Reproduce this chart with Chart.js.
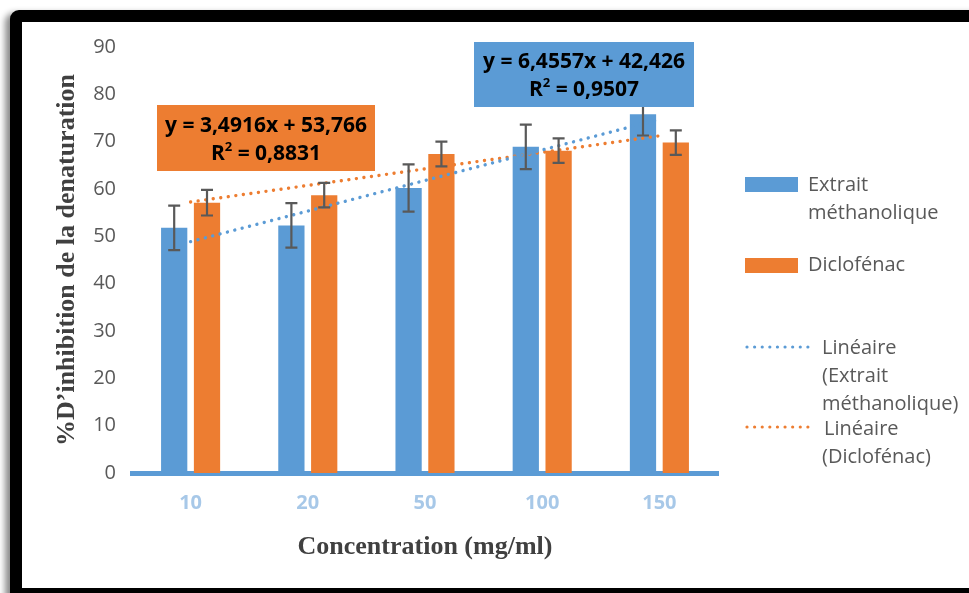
<!DOCTYPE html>
<html>
<head>
<meta charset="utf-8">
<script src="https://cdn.jsdelivr.net/npm/chart.js@4.4.1/dist/chart.umd.min.js"></script>
<style>
  html, body { margin: 0; padding: 0; background: #fff; width: 969px; height: 593px; overflow: hidden; }
  #frame {
    position: absolute; left: 10px; top: 10px; width: 1100px; height: 566px;
    border: 12px solid #000; border-radius: 9px 0 0 0;
    box-shadow: -5px 3px 6px rgba(0,0,0,0.45); background: #fff;
  }
  #wrap { position: absolute; left: 0; top: 0; width: 969px; height: 593px; }
</style>
</head>
<body>
<div id="frame"></div>
<div id="wrap"><canvas id="chart" width="969" height="593"></canvas></div>
<script>
// Concentrations tested (mg/ml)
const concentrations = ['10', '20', '50', '100', '150'];

// % inhibition of protein denaturation, mean values
const extraitValues = [51.8, 52.3, 60.2, 68.9, 75.8];
const diclofenacValues = [57.1, 58.7, 67.4, 68.1, 69.8];

// Standard deviations (error bars)
const extraitErrors = [4.7, 4.7, 5.0, 4.7, 4.5];
const diclofenacErrors = [2.7, 2.6, 2.6, 2.6, 2.6];

// Linear trendlines (x = category rank 1..5): [slope, intercept, R²]
const extraitFit = [6.4557, 42.426, 0.9507];
const diclofenacFit = [3.4916, 53.766, 0.8831];

// Y axis range
const yRange = [0, 90, 10];

const BLUE = '#5B9BD5';
const ORANGE = '#ED7D31';
const GREY = '#595959';

function fitLine(fit) {
  const n = concentrations.length;
  return [
    { x: concentrations[0], y: fit[0] * 1 + fit[1] },
    { x: concentrations[n - 1], y: fit[0] * n + fit[1] }
  ];
}
const fr = v => String(v).replace('.', ',');

// Error bars on top of each bar
const errorBars = {
  id: 'errorBars',
  afterDatasetsDraw(chart) {
    const ctx = chart.ctx, ys = chart.scales.y;
    const sets = [[0, extraitValues, extraitErrors], [1, diclofenacValues, diclofenacErrors]];
    ctx.save();
    ctx.strokeStyle = GREY;
    ctx.lineWidth = 2.2;
    sets.forEach(([idx, vals, errs]) => {
      chart.getDatasetMeta(idx).data.forEach((bar, i) => {
        const x = bar.x;
        const t = ys.getPixelForValue(vals[i] + errs[i]);
        const b = ys.getPixelForValue(vals[i] - errs[i]);
        ctx.beginPath();
        ctx.moveTo(x, t); ctx.lineTo(x, b);
        ctx.moveTo(x - 6, t); ctx.lineTo(x + 6, t);
        ctx.moveTo(x - 6, b); ctx.lineTo(x + 6, b);
        ctx.stroke();
      });
    });
    ctx.restore();
  }
};

// Trendline equation boxes and the side legend
const overlays = {
  id: 'overlays',
  afterDraw(chart) {
    const ctx = chart.ctx;
    ctx.save();

    function eqBox(fit, color, x0, y0, w, h, l1, l2) {
      ctx.fillStyle = color;
      ctx.fillRect(x0, y0, w, h);
      ctx.fillStyle = '#000';
      ctx.textBaseline = 'middle';
      ctx.textAlign = 'left';
      const big = 'bold 21px "Open Sans"', small = 'bold 13px "Open Sans"';
      const cx = x0 + w / 2;
      ctx.font = big;
      const eq = 'y = ' + fr(fit[0]) + 'x + ' + fr(fit[1]);
      ctx.textAlign = 'center';
      ctx.fillText(eq, cx, l1);
      ctx.textAlign = 'left';
      const rest = ' = ' + fr(fit[2]);
      const wR = ctx.measureText('R').width;
      const wRest = ctx.measureText(rest).width;
      ctx.font = small;
      const w2 = ctx.measureText('2').width;
      const total = wR + w2 + wRest;
      let x = cx - total / 2;
      ctx.font = big;
      ctx.fillText('R', x, l2); x += wR;
      ctx.font = small;
      ctx.fillText('2', x, l2 - 7); x += w2;
      ctx.font = big;
      ctx.fillText(rest, x, l2);
    }
    eqBox(diclofenacFit, ORANGE, 157, 105, 218, 66, 126, 154);
    eqBox(extraitFit, BLUE, 474, 42, 220, 65, 62, 90);

    // legend
    ctx.font = '20px "Open Sans"';
    ctx.fillStyle = GREY;
    ctx.textAlign = 'left';
    ctx.textBaseline = 'middle';
    const ds = chart.data.datasets;
    ctx.fillStyle = ds[0].backgroundColor;
    ctx.fillRect(745, 177, 53, 15);
    ctx.fillStyle = ds[1].backgroundColor;
    ctx.fillRect(745, 258, 53, 15);
    ctx.fillStyle = GREY;
    ctx.fillText('Extrait', 808, 185);
    ctx.fillText('méthanolique', 808, 213);
    ctx.fillText('Diclofénac', 808, 265);

    function dots(color, y) {
      ctx.save();
      ctx.strokeStyle = color;
      ctx.lineWidth = 3.2;
      ctx.lineCap = 'round';
      ctx.setLineDash([0.01, 7.6]);
      ctx.beginPath();
      ctx.moveTo(747, y); ctx.lineTo(811, y);
      ctx.stroke();
      ctx.restore();
    }
    dots(ds[2].borderColor, 347);
    dots(ds[3].borderColor, 427);
    ctx.fillText('Linéaire', 822, 348);
    ctx.fillText('(Extrait', 822, 376);
    ctx.fillText('méthanolique)', 822, 404);
    ctx.fillText('Linéaire', 824, 429);
    ctx.fillText('(Diclofénac)', 822, 457);

    ctx.restore();
  }
};

new Chart(document.getElementById('chart'), {
  type: 'bar',
  data: {
    labels: concentrations,
    datasets: [
      { label: 'Extrait méthanolique', data: extraitValues, backgroundColor: BLUE, order: 2,
        categoryPercentage: 0.56, barPercentage: 0.8 },
      { label: 'Diclofénac', data: diclofenacValues, backgroundColor: ORANGE, order: 2,
        categoryPercentage: 0.56, barPercentage: 0.8 },
      { type: 'line', label: 'Linéaire (Extrait méthanolique)', data: fitLine(extraitFit),
        borderColor: BLUE, borderWidth: 3.4, borderCapStyle: 'round', borderDash: [0.01, 7.6],
        pointRadius: 0, fill: false, order: 1 },
      { type: 'line', label: 'Linéaire (Diclofénac)', data: fitLine(diclofenacFit),
        borderColor: ORANGE, borderWidth: 3.4, borderCapStyle: 'round', borderDash: [0.01, 7.6],
        pointRadius: 0, fill: false, order: 1 }
    ]
  },
  options: {
    responsive: false,
    animation: false,
    events: [],
    layout: { padding: { left: 30, top: 47, right: 251, bottom: 20 } },
    plugins: { legend: { display: false }, tooltip: { enabled: false } },
    scales: {
      x: {
        grid: { display: false, drawTicks: false },
        border: { display: true, color: BLUE, width: 5 },
        ticks: { color: '#A7C8E8', font: { family: 'Open Sans', size: 20, weight: 'bold' }, padding: 18 },
        title: { display: true, text: 'Concentration (mg/ml)', color: '#404040',
                 font: { family: 'Liberation Serif', size: 26, weight: 'bold' }, padding: { top: 0, bottom: 10 } },
        afterFit(s) { s.height = 100; }
      },
      y: {
        min: yRange[0], max: yRange[1],
        grid: { display: false, drawTicks: false },
        border: { display: false },
        ticks: { stepSize: yRange[2], color: GREY, font: { family: 'Open Sans', size: 20 }, padding: 16 },
        title: { display: true, text: '%D’inhibition de la denaturation', color: '#404040',
                 font: { family: 'Liberation Serif', size: 26, weight: 'bold' }, padding: { top: 22, bottom: 0 } },
        afterFit(s) { s.width = 102; }
      }
    }
  },
  plugins: [errorBars, overlays]
});
</script>
</body>
</html>
